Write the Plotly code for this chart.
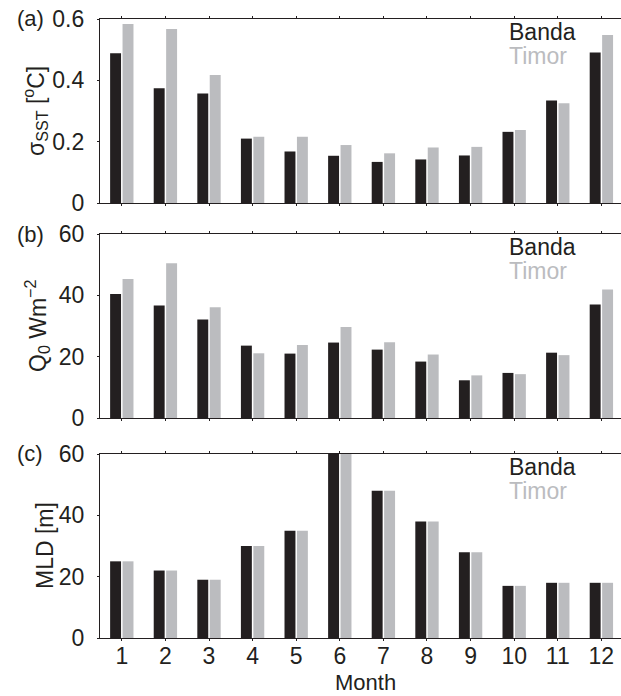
import plotly.graph_objects as go

months = list(range(1, 13))
month_labels = [str(m) for m in months]

sst_banda = [0.488, 0.374, 0.357, 0.210, 0.168, 0.154, 0.134, 0.142, 0.155, 0.232, 0.334, 0.491]
sst_timor = [0.584, 0.567, 0.417, 0.216, 0.216, 0.189, 0.162, 0.181, 0.183, 0.238, 0.325, 0.548]

q0_banda = [40.4, 36.7, 32.1, 23.6, 21.0, 24.6, 22.3, 18.4, 12.3, 14.7, 21.3, 37.0]
q0_timor = [45.3, 50.5, 36.1, 21.1, 23.8, 29.7, 24.7, 20.7, 13.9, 14.3, 20.5, 41.9]

mld_banda = [25, 22, 19, 30, 35, 60, 48, 38, 28, 17, 18, 18]
mld_timor = [25, 22, 19, 30, 35, 60, 48, 38, 28, 17, 18, 18]

BLACK = "#231f20"
GRAY = "#bbbcbf"
FONT = "Liberation Sans, Arial, Helvetica, sans-serif"
FS = 23
W, H = 621, 696

panels = [
    dict(b=sst_banda, t=sst_timor, top=19, bot=203, rng=[0, 0.6], tickvals=[0, 0.2, 0.4, 0.6],
         ticktext=["0", "0.2", "0.4", "0.6"], label="(a)",
         ytitle="σ<sub>SST</sub> [<sup>o</sup>C]", tx=35),
    dict(b=q0_banda, t=q0_timor, top=234, bot=418, rng=[0, 60], tickvals=[0, 20, 40, 60],
         ticktext=["0", "20", "40", "60"], label="(b)",
         ytitle="Q<sub>0</sub> Wm<sup>−2</sup>", tx=37),
    dict(b=mld_banda, t=mld_timor, top=454, bot=638, rng=[0, 60], tickvals=[0, 20, 40, 60],
         ticktext=["0", "20", "40", "60"], label="(c)",
         ytitle="MLD [m]", tx=45),
]

fig = go.Figure()
annotations = []
L = 100
for i, p in enumerate(panels):
    n = "" if i == 0 else str(i + 1)
    xa = "x" + n
    ya = "y" + n
    fig.add_trace(go.Bar(x=months, y=p["b"], marker=dict(color=BLACK, line=dict(width=0)),
                         xaxis=xa, yaxis=ya, showlegend=False, offsetgroup="b"))
    fig.add_trace(go.Bar(x=months, y=p["t"], marker=dict(color=GRAY, line=dict(width=0)),
                         xaxis=xa, yaxis=ya, showlegend=False, offsetgroup="t"))
    dom = [1 - p["bot"] / H, 1 - p["top"] / H]
    xkey = "xaxis" + n
    ykey = "yaxis" + n
    xdict = dict(
        domain=[0, 1], range=[0.5, 12.45], anchor=ya,
        tickvals=months,
        showticklabels=(i == 2),
        ticks="outside", ticklen=2, tickwidth=1, tickcolor=BLACK,
        showline=True, linecolor=BLACK, linewidth=1.3, mirror="ticks",
        showgrid=False, zeroline=False,
        tickfont=dict(family=FONT, size=FS, color=BLACK),
        fixedrange=True,
    )
    if i == 2:
        xdict["ticktext"] = month_labels
        xdict["ticklabelstandoff"] = -5
    fig.layout[xkey] = xdict
    fig.layout[ykey] = dict(
        domain=dom, range=p["rng"], anchor=xa,
        tickvals=p["tickvals"], ticktext=p["ticktext"],
        ticks="outside", ticklen=2, tickwidth=1, tickcolor=BLACK,
        showline=True, linecolor=BLACK, linewidth=1.3,
        showgrid=False, zeroline=False,
        tickfont=dict(family=FONT, size=FS, color=BLACK),
        ticklabelstandoff=8,
    )
    annotations.append(dict(text=p["label"], xref="paper", yref="paper",
                            x=(15 - L) / (W - L), y=1 - p["top"] / H,
                            xanchor="left", yanchor="middle", showarrow=False,
                            font=dict(family=FONT, size=FS - 1, color=BLACK)))
    annotations.append(dict(text=p["ytitle"], xref="paper", yref="paper",
                            x=(p["tx"] - L) / (W - L), y=1 - ((p["top"] + p["bot"]) / 2) / H,
                            xanchor="center", yanchor="middle", textangle=-90, showarrow=False,
                            font=dict(family=FONT, size=FS, color=BLACK)))
    annotations.append(dict(text="Banda", xref="paper", yref="paper",
                            x=(507 - L) / (W - L), y=1 - (p["top"] + 13) / H,
                            xanchor="left", yanchor="middle", showarrow=False,
                            font=dict(family=FONT, size=FS, color=BLACK)))
    annotations.append(dict(text="Timor", xref="paper", yref="paper",
                            x=(507 - L) / (W - L), y=1 - (p["top"] + 37) / H,
                            xanchor="left", yanchor="middle", showarrow=False,
                            font=dict(family=FONT, size=FS, color=GRAY)))

annotations.append(dict(text="Month", xref="paper", yref="paper",
                        x=(365 - L) / (W - L), y=1 - 682 / H,
                        xanchor="center", yanchor="middle", showarrow=False,
                        borderpad=0,
                        font=dict(family=FONT, size=FS - 1, color=BLACK)))

fig.update_layout(
    width=W, height=H,
    margin=dict(l=L, r=0, t=0, b=0, autoexpand=False),
    paper_bgcolor="white", plot_bgcolor="white",
    barmode="group", bargap=0.43, bargroupgap=0.12,
    annotations=annotations,
    showlegend=False,
)

fig.write_html("out.html")
